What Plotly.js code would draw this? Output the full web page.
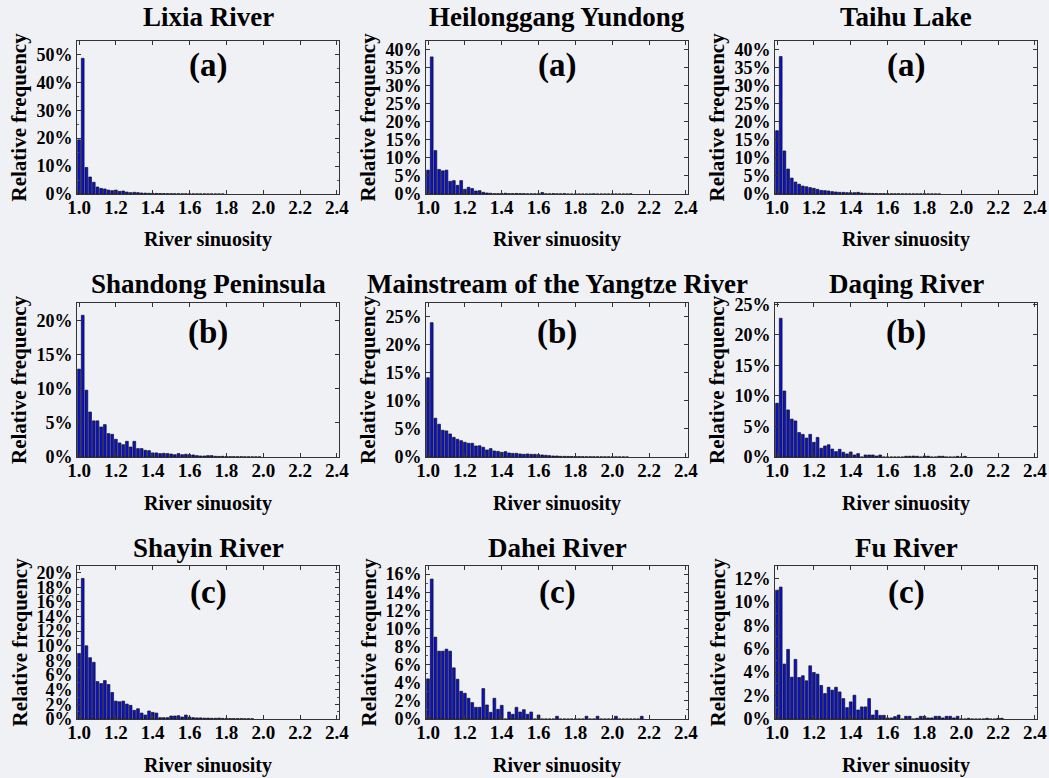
<!DOCTYPE html>
<html>
<head>
<meta charset="utf-8">
<script src="https://cdn.plot.ly/plotly-3.0.1.min.js"></script>
<style>
html,body{margin:0;padding:0;background:#f0f1f5;}
#chart{width:1049px;height:778px;}
</style>
</head>
<body>
<div id="chart"></div>
<script>
// Bin centres of river sinuosity (bin width 0.02)
const sinuosityBins = [1.00,1.02,1.04,1.06,1.08,1.10,1.12,1.14,1.16,1.18,1.20,1.22,1.24,1.26,1.28,1.30,1.32,1.34,1.36,1.38,
  1.40,1.42,1.44,1.46,1.48,1.50,1.52,1.54,1.56,1.58,1.60,1.62,1.64,1.66,1.68,1.70,1.72,1.74,1.76,1.78,
  1.80,1.82,1.84,1.86,1.88,1.90,1.92,1.94,1.96,1.98,2.00,2.02,2.04,2.06,2.08,2.10,2.12,2.14,2.16,2.18,
  2.20,2.22,2.24,2.26,2.28,2.30,2.32,2.34,2.36,2.38];

const regionNames = ["Lixia River","Heilonggang Yundong","Taihu Lake",
  "Shandong Peninsula","Mainstream of the Yangtze River","Daqing River",
  "Shayin River","Dahei River","Fu River"];
const panelLabels = ["(a)","(a)","(a)","(b)","(b)","(b)","(c)","(c)","(c)"];
const xTickVals = [1.0,1.2,1.4,1.6,1.8,2.0,2.2,2.4];
const xTickText = ["1.0","1.2","1.4","1.6","1.8","2.0","2.2","2.4"];

// Relative frequency (%) per bin
const lixia = [19.4,48.6,9.5,6.1,4.2,2.5,2.0,1.8,1.4,1.2,1.4,0.95,1.07,0.7,0.48,0.6,0.48,0.36,0.3,0.25,
  0.22,0.2,0.18,0.15,0.14,0.12,0.1,0.09,0.08,0.07,0.06,0.05,0.05,0.04,0.04,0.03,0.03,0.02,0.02,0.02];
const heilonggang = [6.6,37.9,12.0,6.8,6.4,6.6,3.5,3.7,2.4,3.7,1.3,1.85,1.5,0.83,0.93,0.46,0.28,0.2,0.1,0.1,
  0.1,0.2,0.1,0.1,0.15,0.1,0.1,0.05,0.05,0.05,0.05,0.4,0.05,0.05,0.1,0.05,0.05,0.1,0,0,
  0,0,0,0,0,0.05,0,0,0,0,0,0,0,0,0,0.05];
const taihu = [17.5,38.0,11.9,6.9,4.4,3.3,2.7,2.2,2.0,1.76,1.57,1.3,1.0,0.93,0.83,0.65,0.56,0.46,0.46,0.37,
  0.37,0.37,0.46,0.28,0.2,0.18,0.15,0.12,0.1,0.1,0.08,0.07,0.06,0.06,0.05,0.05,0.04,0.04,0.03,0.03,
  0.03,0.02,0.02,0.02,0.02];
const shandong = [12.9,20.8,9.8,6.6,5.3,5.3,4.4,4.75,3.43,3.33,2.6,2.06,1.8,2.3,1.47,2.3,1.23,1.23,0.98,0.93,
  0.6,0.6,0.5,0.54,0.5,0.44,0.34,0.5,0.34,0.4,0.34,0.3,0.2,0.15,0.15,0.2,0.2,0.1,0.08,0.1,
  0.06,0.05,0.05,0.04,0.04,0.03,0.03,0.02,0.02,0.02];
const yangtze = [14.1,23.9,6.9,5.83,4.76,4.64,4.1,3.5,3.15,2.9,2.62,2.44,2.44,1.96,2.0,1.73,1.25,1.49,1.07,1.0,
  0.83,0.95,0.71,0.65,0.65,0.54,0.48,0.54,0.48,0.48,0.42,0.36,0.3,0.24,0.18,0.18,0.12,0.12,0.1,0.09,
  0.08,0.07,0.06,0.05,0.05,0.04,0.04,0.03,0.03,0.03,0.02,0.02,0.02,0.02,0.01];
const daqing = [8.8,22.7,10.8,7.7,6.2,5.9,4.0,3.7,3.1,3.7,2.4,3.2,1.43,1.8,2.0,1.3,0.88,1.26,0.77,0.5,
  0.82,0.33,0.55,0,0.33,0.33,0.33,0.16,0.33,0,0,0,0,0,0,0.12,0.12,0.15,0.12,0,
  0.15,0.12,0,0,0.12,0.12,0,0,0,0.1,0,0.1];
const shayin = [8.96,19.2,10.0,8.37,7.74,5.11,4.84,5.25,4.71,3.62,2.44,2.35,2.44,2.04,1.86,1.18,1.40,0.81,0.54,1.09,
  0.9,0.81,0.18,0.18,0.18,0.41,0.41,0.45,0.27,0.54,0.27,0.18,0.15,0.15,0.12,0.12,0.1,0.1,0.12,0.08,
  0.08,0.06,0.06,0.05,0.05,0.04,0.04,0.03];
const dahei = [4.43,15.46,9.04,7.49,7.49,7.71,7.49,5.65,4.39,3.06,2.84,2.29,1.81,1.29,1.29,3.36,1.55,0.74,2.29,1.07,
  1.51,0,0.77,0.52,1.29,0.77,1.03,0.52,0.77,0,0.44,0,0,0,0,0.3,0,0,0,0,
  0,0,0,0.3,0,0,0.3,0,0,0,0,0.3,0,0,0,0,0,0,0.3];
const fu = [11.0,11.26,4.69,5.94,3.57,5.09,3.54,3.69,3.26,4.54,3.97,3.83,2.86,2.17,2.71,2.46,2.71,2.31,1.74,0.97,
  1.46,2.03,0.77,1.03,1.03,1.74,0.34,0.74,0.31,0.31,0.09,0.09,0.2,0.34,0,0.23,0.23,0,0.06,0.23,
  0.23,0.09,0.09,0.23,0.23,0.09,0.23,0.23,0.09,0.23,0,0,0.06,0,0,0,0,0.06,0,0,
  0.06,0.06];

const seriesList = [lixia,heilonggang,taihu,shandong,yangtze,daqing,shayin,dahei,fu];
const yMax = [54.8,42.3,42.3,22.6,27.4,25.2,20.9,16.9,13.06];
const yStep = [10,5,5,5,5,5,2,2,2];

// ---------- layout geometry (pixels) ----------
const W = 1049, H = 778;
const colPx = [[77,339],[426,688],[775,1037]];
const rowPx = [[41,194],[303,457],[566,719]];
const titleY = [17,284,548];
const labelY = [65,332,592];
const xTitleY = [239,503,765];

const FONT = 'Liberation Serif, Times New Roman, serif';
const BG = '#f0f1f5';

const data = [];
const layout = {
  width: W, height: H,
  margin: {l:0,r:0,t:0,b:0},
  paper_bgcolor: BG, plot_bgcolor: BG,
  showlegend: false,
  bargap: 0.25,
  font: {family: FONT, color: '#000', weight: 'bold'},
  annotations: []
};

seriesList.forEach((vals, i) => {
  const r = Math.floor(i/3), c = i%3;
  const sfx = i === 0 ? '' : String(i+1);
  data.push({
    type: 'bar',
    x: sinuosityBins.slice(0, vals.length),
    y: vals,
    xaxis: 'x'+sfx, yaxis: 'y'+sfx,
    marker: {color: '#0a10d0', line: {color: '#111', width: 0.7}},
    hoverinfo: 'x+y'
  });
  const xd = [colPx[c][0]/W, colPx[c][1]/W];
  const yd = [1 - rowPx[r][1]/H, 1 - rowPx[r][0]/H];
  layout['xaxis'+sfx] = {
    domain: xd, anchor: 'y'+sfx, range: [0.989, 2.411],
    tickvals: xTickVals, ticktext: xTickText,
    ticks: 'inside', ticklen: 4, tickcolor: '#333', mirror: 'ticks',
    ticklabelstandoff: -4,
    showline: true, linecolor: '#333', linewidth: 1, showgrid: false, zeroline: false,
    tickfont: {family: FONT, size: 19, color: '#000', weight: 'bold'},
    fixedrange: true
  };
  layout['yaxis'+sfx] = {
    domain: yd, anchor: 'x'+sfx, range: [0, yMax[i]],
    dtick: yStep[i], tick0: 0, ticksuffix: '%',
    ticks: 'inside', ticklen: 4, tickcolor: '#333', mirror: 'ticks',
    minor: {ticks: 'inside', ticklen: 2, tickcolor: '#555', nticks: 2},
    showline: true, linecolor: '#333', linewidth: 1, showgrid: false, zeroline: false,
    tickfont: {family: FONT, size: 18, color: '#000', weight: 'bold'},
    fixedrange: true
  };
  const cx = (colPx[c][0] + colPx[c][1]) / 2;
  layout.annotations.push({
    text: regionNames[i], xref: 'paper', yref: 'paper',
    x: cx/W, y: 1 - titleY[r]/H, xanchor: 'center', yanchor: 'middle', showarrow: false,
    font: {family: FONT, size: 27, color: '#000', weight: 'bold'}
  });
  layout.annotations.push({
    text: panelLabels[i], xref: 'paper', yref: 'paper',
    x: cx/W, y: 1 - labelY[r]/H, xanchor: 'center', yanchor: 'middle', showarrow: false,
    font: {family: FONT, size: 33, color: '#000', weight: 'bold'}
  });
  layout.annotations.push({
    text: 'River sinuosity', xref: 'paper', yref: 'paper',
    x: cx/W, y: 1 - xTitleY[r]/H, xanchor: 'center', yanchor: 'middle', showarrow: false,
    font: {family: FONT, size: 20, color: '#000', weight: 'bold'}
  });
  layout.annotations.push({
    text: 'Relative frequency', xref: 'paper', yref: 'paper', textangle: -90,
    x: (colPx[c][0] - 58)/W, y: 1 - (rowPx[r][0] + rowPx[r][1])/2/H,
    xanchor: 'center', yanchor: 'middle', showarrow: false,
    font: {family: FONT, size: 21, color: '#000', weight: 'bold'}
  });
});

Plotly.newPlot('chart', data, layout, {displayModeBar: false, staticPlot: true});
</script>
</body>
</html>
